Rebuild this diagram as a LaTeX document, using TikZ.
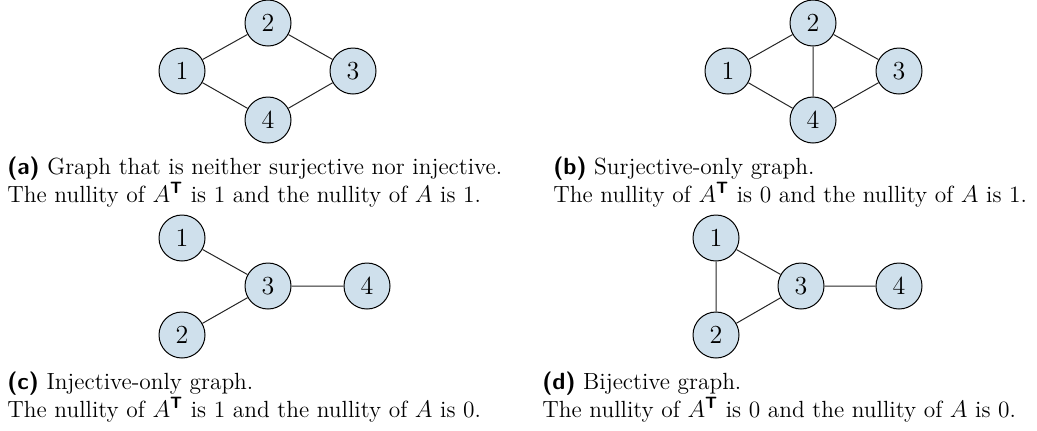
\documentclass[tikz,border=0pt]{standalone}
\usepackage{amsmath}
\definecolor{nodefill}{RGB}{207,224,236}
\tikzset{
  vtx/.style={circle, draw=black, line width=0.5pt, fill=nodefill, inner sep=0pt, minimum size=23pt, font=\fontsize{13}{15}\selectfont},
  edge/.style={line width=0.5pt, draw=black!85},
  capt/.style={anchor=base west, inner sep=0pt, align=left, font=\fontsize{11.7}{10.85}\selectfont},
}
\newcommand{\sublab}[1]{\textsf{\textbf{(#1)}}}
\newcommand{\tr}{\text{\sffamily\bfseries T}}
\begin{document}
\begin{tikzpicture}[x=0.5pt,y=-0.5pt]
\useasboundingbox (0,0) rectangle (1037,430);
% (a)
\node[vtx] (a1) at (182,71) {1};
\node[vtx] (a2) at (268,23) {2};
\node[vtx] (a3) at (353,71) {3};
\node[vtx] (a4) at (268,120) {4};
\draw[edge] (a1) -- (a2) (a2) -- (a3) (a1) -- (a4) (a4) -- (a3);
\node[capt] (capa) at (7,202) {\sublab{a} Graph that is neither surjective nor injective.\\The nullity of $A^{\tr}$ is 1 and the nullity of $A$ is 1.};
% (b)
\node[vtx] (b1) at (728,71) {1};
\node[vtx] (b2) at (813,23) {2};
\node[vtx] (b3) at (899,71) {3};
\node[vtx] (b4) at (813,120) {4};
\draw[edge] (b1) -- (b2) (b2) -- (b3) (b1) -- (b4) (b4) -- (b3) (b2) -- (b4);
\node[capt] (capb) at (553,202) {\sublab{b} Surjective-only graph.\\The nullity of $A^{\tr}$ is 0 and the nullity of $A$ is 1.};
% (c)
\node[vtx] (c1) at (182,238) {1};
\node[vtx] (c2) at (182,335) {2};
\node[vtx] (c3) at (268,286) {3};
\node[vtx] (c4) at (367,286) {4};
\draw[edge] (c1) -- (c3) (c2) -- (c3) (c3) -- (c4);
\node[capt] (capc) at (7,417) {\sublab{c} Injective-only graph.\\The nullity of $A^{\tr}$ is 1 and the nullity of $A$ is 0.};
% (d)
\node[vtx] (d1) at (716,238) {1};
\node[vtx] (d2) at (716,335) {2};
\node[vtx] (d3) at (801,286) {3};
\node[vtx] (d4) at (899,286) {4};
\draw[edge] (d1) -- (d2) (d1) -- (d3) (d2) -- (d3) (d3) -- (d4);
\node[capt] (capd) at (542,417) {\sublab{d} Bijective graph.\\The nullity of $A^{\tr}$ is 0 and the nullity of $A$ is 0.};
\end{tikzpicture}
\end{document}
